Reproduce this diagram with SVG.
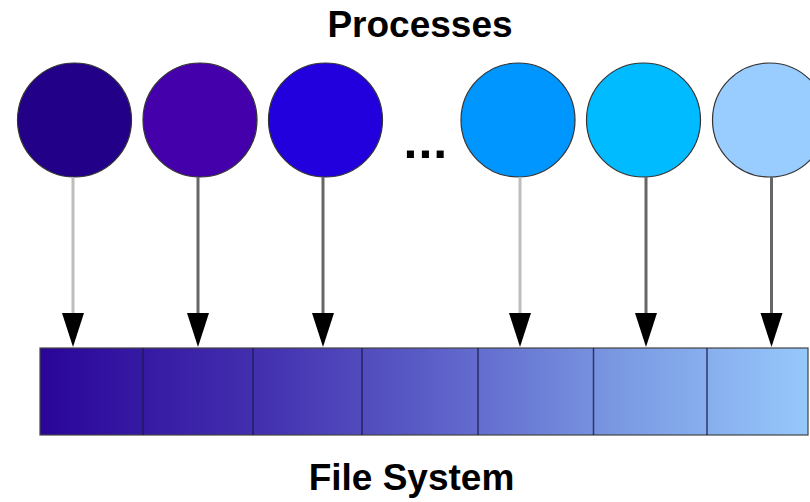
<svg xmlns="http://www.w3.org/2000/svg" width="810" height="502" viewBox="0 0 810 502">
<style>
.t{font-family:"Liberation Sans",Arial,sans-serif;font-weight:bold;fill:#000;text-anchor:middle}
.p{stroke:#333;stroke-width:1.2}
.ln{stroke-width:3;fill:none}
.lt{stroke:#bdbdbd}
.dk{stroke:#666}
.dv{stroke:#1a1a4a;stroke-width:1.5;stroke-opacity:0.8}
</style>
<defs>
<linearGradient id="g" x1="40" y1="0" x2="808" y2="0" gradientUnits="userSpaceOnUse">
<stop offset="0" stop-color="#2a0598"/>
<stop offset="0.3" stop-color="#4432b0"/>
<stop offset="0.5" stop-color="#5a5cc6"/>
<stop offset="0.75" stop-color="#7a98e2"/>
<stop offset="1" stop-color="#96c8fb"/>
</linearGradient>
</defs>
<text class="t" x="420" y="37" font-size="37">Processes</text>
<g id="p1"><circle class="p" cx="74.5" cy="120" r="57" fill="#220088"/></g>
<g id="p2"><circle class="p" cx="200" cy="120" r="57" fill="#4400aa"/></g>
<g id="p3"><circle class="p" cx="325.5" cy="120" r="57" fill="#2200dd"/></g>
<text x="403.5" y="158" font-size="50" font-family="Liberation Sans, Arial, sans-serif" font-weight="bold" letter-spacing="1">...</text>
<g id="p4"><circle class="p" cx="518" cy="120" r="57" fill="#0096ff"/></g>
<g id="p5"><circle class="p" cx="643.5" cy="120" r="57" fill="#00bbff"/></g>
<g id="p6"><circle class="p" cx="769.5" cy="120" r="57" fill="#99ccff"/></g>
<g id="connectors">
<line class="ln lt" x1="73" y1="177" x2="73" y2="314"/>
<line class="ln dk" x1="198" y1="177" x2="198" y2="314"/>
<line class="ln dk" x1="323" y1="177" x2="323" y2="314"/>
<line class="ln lt" x1="520" y1="177" x2="520" y2="314"/>
<line class="ln dk" x1="646" y1="177" x2="646" y2="314"/>
<line class="ln dk" x1="771.5" y1="177" x2="771.5" y2="314"/>
<path d="M62,313 L84,313 L73,347 Z"/>
<path d="M187,313 L209,313 L198,347 Z"/>
<path d="M312,313 L334,313 L323,347 Z"/>
<path d="M509,313 L531,313 L520,347 Z"/>
<path d="M635,313 L657,313 L646,347 Z"/>
<path d="M760.5,313 L782.5,313 L771.5,347 Z"/>
</g>
<g id="filesystem">
<rect x="40" y="348" width="768" height="87" fill="url(#g)" stroke="#444" stroke-width="1.2"/>
<line class="dv" x1="143" y1="348" x2="143" y2="435"/>
<line class="dv" x1="253" y1="348" x2="253" y2="435"/>
<line class="dv" x1="362" y1="348" x2="362" y2="435"/>
<line class="dv" x1="478" y1="348" x2="478" y2="435"/>
<line class="dv" x1="593.5" y1="348" x2="593.5" y2="435"/>
<line class="dv" x1="707" y1="348" x2="707" y2="435"/>
</g>
<text class="t" x="411.5" y="490" font-size="37">File System</text>
</svg>
